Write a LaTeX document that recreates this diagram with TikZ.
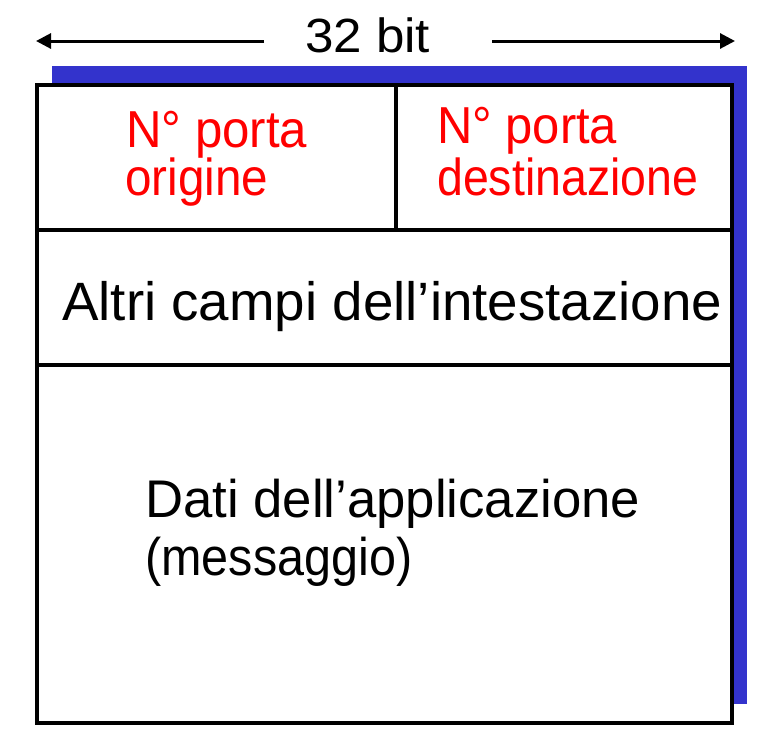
\documentclass[tikz,border=0pt]{standalone}
\usepackage{fontspec}
\setmainfont{Liberation Sans}
\usetikzlibrary{arrows.meta}
\definecolor{shadowblue}{RGB}{51,51,204}
\newcommand{\fitw}[2]{\resizebox{#1}{\height}{#2}}
\begin{document}
\begin{tikzpicture}[x=1pt,y=-1pt,
  frame/.style={line width=4pt},
  redtxt/.style={text=red,font=\fontsize{52}{52}\selectfont,inner sep=0pt,anchor=base west},
  blktxt/.style={text=black,inner sep=0pt,anchor=base west},
  dimarrow/.style={line width=3pt,-{Triangle[length=15pt,width=15pt]}}]
\useasboundingbox (0,0) rectangle (776,748);
% shadow
\fill[shadowblue] (52,66) rectangle (747,704);
% main box
\filldraw[frame,fill=white] (36.5,84.7) coordinate (tl) rectangle (731.5,722.5) coordinate (br);
\coordinate (h1l) at (36.5,230);
\coordinate (h1r) at (731.5,230);
\coordinate (h2l) at (36.5,365);
\coordinate (h2r) at (734,365);
\coordinate (vt) at (395.5,84.7);
\coordinate (vb) at (395.5,230);
\draw[frame] (h1l) -- (h1r);
\draw[frame] (h2l) -- (h2r);
\draw[frame] (vt) -- (vb);
% width label
\node[blktxt,font=\fontsize{48}{48}\selectfont] (bits) at (305,52) {\fitw{125pt}{32 bit}};
\coordinate (la) at (264,41);
\coordinate (lt) at (36,41);
\coordinate (ra) at (492,41);
\coordinate (rt) at (735,41);
\draw[dimarrow] (la) -- (lt);
\draw[dimarrow] (ra) -- (rt);
% fields
\node[redtxt] (src1) at (126,147) {\fitw{181pt}{N° porta}};
\node[redtxt] (src2) at (125,195) {\fitw{143pt}{origine}};
\node[redtxt] (dst1) at (437,143) {\fitw{180pt}{N° porta}};
\node[redtxt] (dst2) at (437,195) {\fitw{261pt}{destinazione}};
\node[blktxt,font=\fontsize{54}{54}\selectfont] (hdr) at (62,320) {\fitw{660pt}{Altri campi dell’intestazione}};
\node[blktxt,font=\fontsize{53}{53}\selectfont] (data1) at (145,517) {\fitw{495pt}{Dati dell’applicazione}};
\node[blktxt,font=\fontsize{53}{53}\selectfont] (data2) at (145,575) {\fitw{267pt}{(messaggio)}};
\end{tikzpicture}
\end{document}
